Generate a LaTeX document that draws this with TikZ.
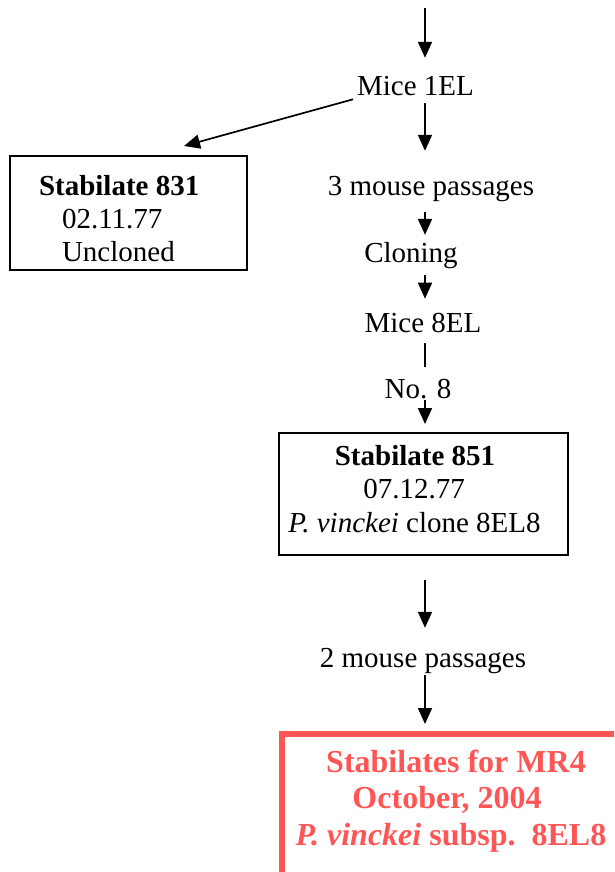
\documentclass[tikz,border=0pt]{standalone}
\usepackage{fontspec}
\setmainfont{Liberation Serif}
\usetikzlibrary{arrows.meta}
\definecolor{mrred}{RGB}{255,85,85}
\tikzset{
  lbl/.style={inner sep=0pt, outer sep=0pt, font=\fontsize{29}{33}\selectfont},
  redlbl/.style={inner sep=0pt, outer sep=0pt, text=mrred, font=\fontsize{32}{37}\selectfont\bfseries},
  stockbox/.style={draw, line width=1.8pt, inner sep=0pt, outer sep=0pt},
  redbox/.style={draw=mrred, line width=6pt, inner sep=0pt, outer sep=0pt},
  arr/.style={line width=1.7pt, -{Triangle[length=16pt,width=14pt]}},
  link/.style={line width=1.7pt}
}
\begin{document}
\begin{tikzpicture}[x=1pt,y=-1pt]
\useasboundingbox (0,0) rectangle (614,872);
\clip (0,0) rectangle (614,872);
\fill[white] (0,0) rectangle (614,872);

% main column of the passage history
\coordinate (col) at (425,0);
\coordinate (src) at (425,8);

\node[lbl, anchor=base] (m1) at (415.5,96) {Mice 1EL};
\node[lbl, anchor=base] (p3) at (431,195) {3 mouse passages};
\node[lbl, anchor=base] (cl) at (411,262) {Cloning};
\node[lbl, anchor=base] (m8) at (423,332) {Mice 8EL};
\node[lbl, anchor=base] (no8) at (418,398) {No. 8};
\node[lbl, anchor=base] (p2) at (423,667) {2 mouse passages};

% stabilate 831 (uncloned)
\node[stockbox, minimum width=237pt, minimum height=114pt] (s831) at (128.5,213) {};
\node[lbl, anchor=base west, font=\fontsize{29}{33}\selectfont\bfseries] (s831a) at (39,195) {Stabilate 831};
\node[lbl, anchor=base west] (s831b) at (62,228) {02.11.77};
\node[lbl, anchor=base west] (s831c) at (62,261) {Uncloned};

% stabilate 851 (clone 8EL8)
\node[stockbox, minimum width=289pt, minimum height=122pt] (s851) at (423.5,494) {};
\node[lbl, anchor=base, font=\fontsize{29}{33}\selectfont\bfseries] (s851a) at (415,465) {Stabilate 851};
\node[lbl, anchor=base] (s851b) at (414,498) {07.12.77};
\node[lbl, anchor=base] (s851c) at (414.5,532) {\textit{P. vinckei} clone 8EL8};

% MR4 stabilates
\node[redbox, anchor=north west, minimum width=400pt, minimum height=220pt] (mr4) at (282,734) {};
\node[redlbl, anchor=base] (mr4a) at (456,772) {Stabilates for MR4};
\node[redlbl, anchor=base] (mr4b) at (447,808) {October, 2004};
\node[redlbl, anchor=base] (mr4c) at (451,845) {\textit{P. vinckei} subsp.\ \ 8EL8};

% connectors
\draw[arr, shorten >=19pt] (src) -- (m1.north -| col);
\draw[arr, shorten <=7pt, shorten >=25pt] (m1.south -| col) -- (p3.north -| col);
\draw[arr] ([xshift=-4pt,yshift=-3pt]m1.south west) -- ([xshift=55.5pt,yshift=10pt]s831.north);
\draw[arr, shorten <=11pt, shorten >=7pt] (p3.south -| col) -- (cl.north -| col);
\draw[arr, shorten <=7pt, shorten >=14pt] (cl.south -| col) -- (m8.north -| col);
\draw[link, shorten <=11pt, shorten >=12pt] (m8.south -| col) -- (no8.north -| col);
\draw[arr, shorten <=2pt, shorten >=9pt] (no8.south -| col) -- (s851.north -| col);
\draw[arr, shorten <=25pt, shorten >=20pt] (s851.south -| col) -- (p2.north -| col);
\draw[arr, shorten <=2pt, shorten >=10pt] (p2.south -| col) -- (mr4.north -| col);
\end{tikzpicture}
\end{document}
